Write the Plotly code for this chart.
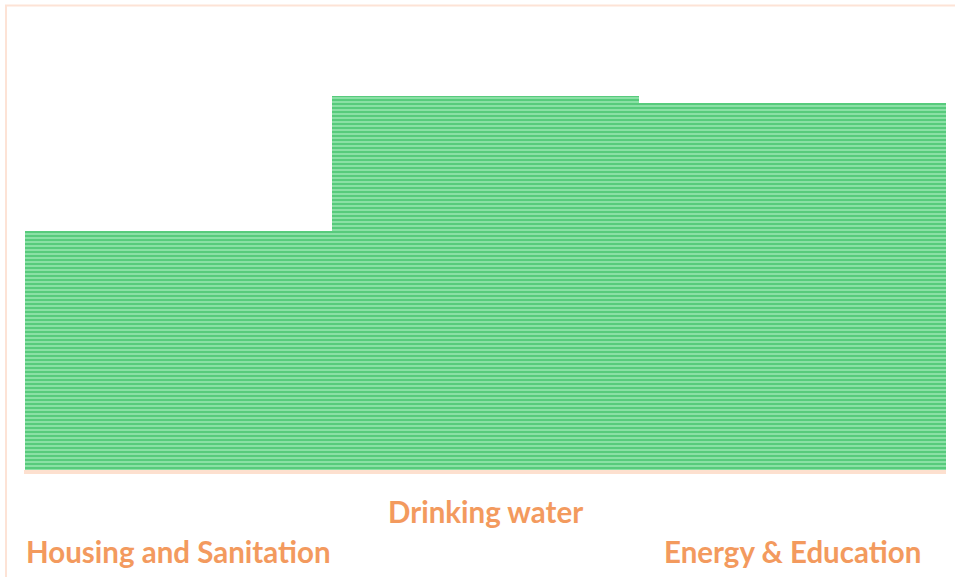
import plotly.graph_objects as go

categories = ["Housing and Sanitation", "Drinking water", "Energy & Education"]
values = [64, 100, 98]
label_rows = [1, 0, 1]  # 0 = upper row, 1 = lower row

W, H = 955, 577
L, R, T, B = 24, 9, 6, 107
plot_h = H - T - B

fig = go.Figure(go.Bar(
    x=categories, y=values,
    marker=dict(
        color="#9fe9b6",
        line=dict(width=0),
        pattern=dict(shape="-", fgcolor="#0fae42", bgcolor="#9fe9b6",
                     size=4, solidity=0.65, fillmode="overlay"),
    ),
    hoverinfo="skip",
))

row_y = [(470 - 511) / plot_h, (470 - 551) / plot_h]
for cat, row in zip(categories, label_rows):
    fig.add_annotation(x=cat, xref="x", y=row_y[row], yref="paper",
                       text=cat, showarrow=False, xanchor="center", yanchor="middle",
                       font=dict(family="Lato", size=29.5, color="#f39a5e", weight="bold"))

fig.add_shape(type="rect", xref="paper", yref="paper",
              x0=(6 - L) / (W - L - R), x1=(962 - L) / (W - L - R),
              y0=(470 - 585) / plot_h, y1=1 + 0.5 / plot_h,
              line=dict(color="#fde3d6", width=2), fillcolor="rgba(0,0,0,0)", layer="below")

fig.update_layout(
    width=W, height=H,
    margin=dict(l=L, r=R, t=T, b=B),
    plot_bgcolor="white", paper_bgcolor="white",
    bargap=0, showlegend=False,
    xaxis=dict(showticklabels=False, showgrid=False, zeroline=False,
               showline=True, linecolor="#fde0cf", linewidth=4, ticks=""),
    yaxis=dict(range=[0, 100 * plot_h / 374], visible=False, showgrid=False, zeroline=False),
)

fig.write_html("out.html", config={"displayModeBar": False},
               post_script="document.body.style.margin='0';")
